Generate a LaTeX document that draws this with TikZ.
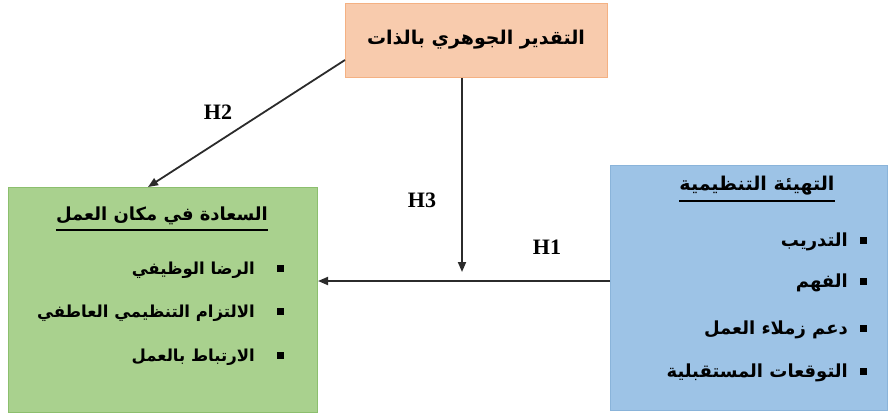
\documentclass[tikz,border=0pt]{standalone}
\usepackage{fontspec}
\setmainfont{Liberation Serif}
\newfontfamily\arabicfont[Script=Arabic]{DejaVu Sans}
\TeXXeTstate=1
\usetikzlibrary{arrows.meta}
\definecolor{peach}{HTML}{F8CBAD}
\definecolor{peachline}{HTML}{F4B183}
\definecolor{grn}{HTML}{A9D18E}
\definecolor{grnline}{HTML}{8CBF6E}
\definecolor{blu}{HTML}{9DC3E6}
\definecolor{bluline}{HTML}{8AB4DA}
\definecolor{arrc}{HTML}{2B2B2B}
\begin{document}
\begin{tikzpicture}[x=1pt,y=-1pt,
  box/.style={draw, line width=1pt, inner sep=0pt, anchor=north west},
  artext/.style={font=\arabicfont\bfseries\fontsize{19}{22}\selectfont, inner sep=0pt},
  lhd/.style={font=\arabicfont\bfseries\fontsize{18}{22}\selectfont, inner sep=0pt},
  litem/.style={font=\arabicfont\bfseries\fontsize{16.5}{20}\selectfont, inner sep=0pt, anchor=east},
  ritem/.style={font=\arabicfont\bfseries\fontsize{18}{22}\selectfont, inner sep=0pt, anchor=east},
  bul/.style={fill=black, minimum size=7pt, inner sep=0pt},
  hlabel/.style={font=\bfseries\fontsize{22}{24}\selectfont, inner sep=0pt},
  arr/.style={draw=arrc, line width=1.8pt, -{Triangle[length=10pt,width=8pt]}}]
\useasboundingbox (0,0) rectangle (890,417);
% boxes
\node[box, fill=peach, draw=peachline, minimum width=262pt, minimum height=74pt] (top) at (345,3) {};
\node[box, fill=grn, draw=grnline, minimum width=309pt, minimum height=225pt] (left) at (8,187) {};
\node[box, fill=blu, draw=bluline, minimum width=277pt, minimum height=245pt] (right) at (610,165) {};
% top text
\node[artext] (toptxt) at (476,40) {\beginR التقدير الجوهري بالذات\endR};
% left box content
\node[lhd] (lhead) at (162,216) {\beginR السعادة في مكان العمل\endR};
\draw[line width=1.8pt] ([yshift=-5pt]lhead.south west) -- ([yshift=-5pt]lhead.south east);
\node[litem] (l1) at (255,270) {\beginR الرضا الوظيفي\endR};
\node[litem] (l2) at (255,313) {\beginR الالتزام التنظيمي العاطفي\endR};
\node[litem] (l3) at (255,357) {\beginR الارتباط بالعمل\endR};
\node[bul] (lb1) at (280,268) {};
\node[bul] (lb2) at (280,311) {};
\node[bul] (lb3) at (280,355) {};
% right box content
\node[artext] (rhead) at (757,186) {\beginR التهيئة التنظيمية\endR};
\draw[line width=1.8pt] ([yshift=-5pt]rhead.south west) -- ([yshift=-5pt]rhead.south east);
\node[ritem] (r1) at (848,242) {\beginR التدريب\endR};
\node[ritem] (r2) at (848,283) {\beginR الفهم\endR};
\node[ritem] (r3) at (848,330) {\beginR دعم زملاء العمل\endR};
\node[ritem] (r4) at (848,373) {\beginR التوقعات المستقبلية\endR};
\node[bul] (rb1) at (863,240) {};
\node[bul] (rb2) at (863,281) {};
\node[bul] (rb3) at (863,328) {};
\node[bul] (rb4) at (863,371) {};
% connectors
\coordinate (h2s) at (345,60);
\coordinate (h2e) at (148,187);
\coordinate (h3e) at (462,272);
\draw[arr] (h2s) -- (h2e);
\draw[arr] (top.south -| h3e) -- (h3e);
\draw[arr] (right.west |- 0,281) -- (left.east |- 0,281);
% labels
\node[hlabel] (lab2) at (218,112) {H2};
\node[hlabel] (lab3) at (422,200) {H3};
\node[hlabel] (lab1) at (547,247) {H1};
\end{tikzpicture}
\end{document}
